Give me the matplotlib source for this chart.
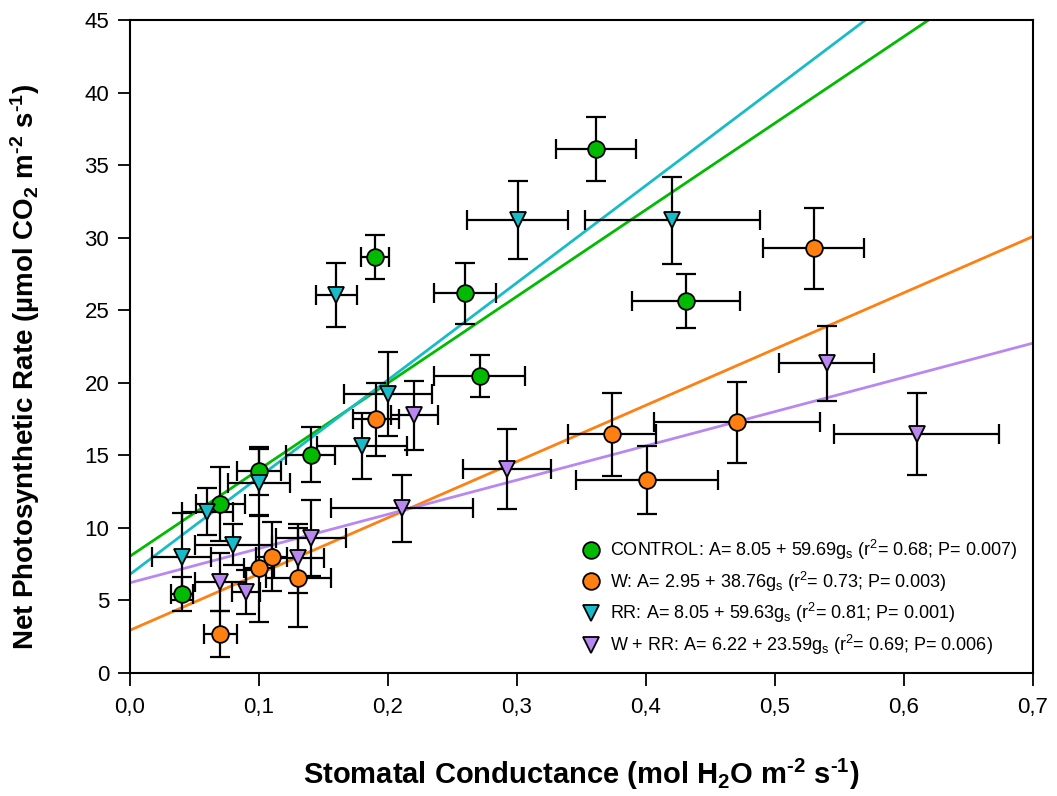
import matplotlib
matplotlib.use("Agg")
import matplotlib.pyplot as plt
import numpy as np

plt.rcParams['font.family'] = ['Liberation Sans', 'DejaVu Sans']
plt.rcParams['mathtext.fontset'] = 'custom'
plt.rcParams['mathtext.rm'] = 'Liberation Sans'
plt.rcParams['mathtext.bf'] = 'Liberation Sans:bold'
plt.rcParams['mathtext.it'] = 'Liberation Sans:italic'

# ---- data ----
ctrl_x = [0.040, 0.070, 0.100, 0.140, 0.190, 0.260, 0.271, 0.361, 0.431]
ctrl_y = [5.45, 11.65, 13.94, 15.05, 28.65, 26.17, 20.49, 36.13, 25.64]
ctrl_xerr = [0.0085, 0.019, 0.017, 0.019, 0.011, 0.024, 0.035, 0.031, 0.042]
ctrl_yerr = [1.15, 2.57, 1.65, 1.9, 1.5, 2.1, 1.45, 2.2, 1.88]

w_x = [0.070, 0.100, 0.110, 0.1305, 0.1905, 0.3735, 0.4005, 0.4705, 0.530]
w_y = [2.69, 7.21, 8.02, 6.57, 17.48, 16.45, 13.28, 17.28, 29.27]
w_xerr = [0.013, 0.012, 0.012, 0.025, 0.018, 0.034, 0.055, 0.064, 0.039]
w_yerr = [1.6, 3.7, 2.4, 3.4, 2.5, 2.85, 2.35, 2.8, 2.8]

rr_x = [0.040, 0.060, 0.080, 0.100, 0.160, 0.180, 0.200, 0.3005, 0.4205]
rr_y = [8.02, 11.12, 8.85, 13.12, 26.05, 15.64, 19.2, 31.22, 31.2]
rr_xerr = [0.023, 0.02, 0.03, 0.024, 0.016, 0.035, 0.034, 0.039, 0.068]
rr_yerr = [3.0, 1.6, 1.4, 2.3, 2.2, 2.3, 2.9, 2.7, 3.0]

wrr_x = [0.070, 0.090, 0.1305, 0.1405, 0.2105, 0.2205, 0.292, 0.540, 0.610]
wrr_y = [6.3, 5.6, 7.9, 9.3, 11.35, 17.75, 14.04, 21.34, 16.47]
wrr_xerr = [0.02, 0.011, 0.02, 0.027, 0.055, 0.018, 0.034, 0.037, 0.064]
wrr_yerr = [2.0, 1.5, 2.4, 2.6, 2.3, 2.4, 2.76, 2.6, 2.8]

# regression lines as drawn (intercept, slope)
ctrl_line = (8.05, 59.69)
w_line = (2.95, 38.76)
rr_line = (6.8, 67.0)
wrr_line = (6.22, 23.59)

labels = [
    r'CONTROL: A= 8.05 + 59.69g$_\mathrm{s}$ (r$^\mathrm{2}$= 0.68; P= 0.007)',
    r'W: A= 2.95 + 38.76g$_\mathrm{s}$ (r$^\mathrm{2}$= 0.73; P= 0.003)',
    r'RR: A= 8.05 + 59.63g$_\mathrm{s}$ (r$^\mathrm{2}$= 0.81; P= 0.001)',
    r'W + RR: A= 6.22 + 23.59g$_\mathrm{s}$ (r$^\mathrm{2}$= 0.69; P= 0.006)',
]

xticks = [0.0, 0.1, 0.2, 0.3, 0.4, 0.5, 0.6, 0.7]
xticklabels = ['0,0', '0,1', '0,2', '0,3', '0,4', '0,5', '0,6', '0,7']
yticks = [0, 5, 10, 15, 20, 25, 30, 35, 40, 45]

colors = ['#00BB00', '#FF8010', '#18BCC8', '#B888F0']
markers = ['o', 'o', 'v', 'v']

fig = plt.figure(figsize=(10.57, 7.96), dpi=100)
ax = fig.add_axes([0.123, 0.1545, 0.8543, 0.8204])
ax.set_xlim(0, 0.7)
ax.set_ylim(0, 45)

xx = np.linspace(0, 0.7, 200)
for (b, m), c in zip([ctrl_line, w_line, rr_line, wrr_line], colors):
    ax.plot(xx, b + m * xx, color=c, lw=2.0, zorder=2)

series = [
    (ctrl_x, ctrl_y, ctrl_xerr, ctrl_yerr),
    (w_x, w_y, w_xerr, w_yerr),
    (rr_x, rr_y, rr_xerr, rr_yerr),
    (wrr_x, wrr_y, wrr_xerr, wrr_yerr),
]
handles = []
for (x, y, xe, ye), c, mk, lab in zip(series, colors, markers, labels):
    ax.errorbar(x, y, xerr=xe, yerr=ye, fmt='none', ecolor='black',
                elinewidth=1.6, capsize=7, capthick=1.6, zorder=3)
    h, = ax.plot(x, y, linestyle='none', marker=mk, markersize=12,
                 markerfacecolor=c, markeredgecolor='black',
                 markeredgewidth=1.3, zorder=4, label=lab)
    handles.append(h)

ax.set_xticks(xticks)
ax.set_xticklabels(xticklabels)
ax.set_yticks(yticks)
ax.tick_params(axis='both', direction='out', length=9, width=1.3,
               labelsize=16, top=False, right=False)
ax.tick_params(axis='x', pad=8)
ax.tick_params(axis='y', pad=6)
for sp in ax.spines.values():
    sp.set_linewidth(1.5)

ax.set_xlabel('Stomatal Conductance (mol H$_\\mathbf{2}$O m$^\\mathbf{\u2010 2}$ s$^\\mathbf{\u2010 1}$)',
              fontsize=21, fontweight='bold', labelpad=28)
ax.set_ylabel('Net Photosynthetic Rate (µmol CO$_\\mathbf{2}$ m$^\\mathbf{\u2010 2}$ s$^\\mathbf{\u2010 1}$)',
              fontsize=20, fontweight='bold')
ax.yaxis.set_label_coords(-0.097, 0.468)

leg = ax.legend(handles=handles, loc='lower right', bbox_to_anchor=(0.997, 0.005),
                frameon=False, fontsize=13, handletextpad=0.45,
                labelspacing=0.42, handlelength=1.2, borderaxespad=0.3)

fig.savefig('out.png', dpi=100)
